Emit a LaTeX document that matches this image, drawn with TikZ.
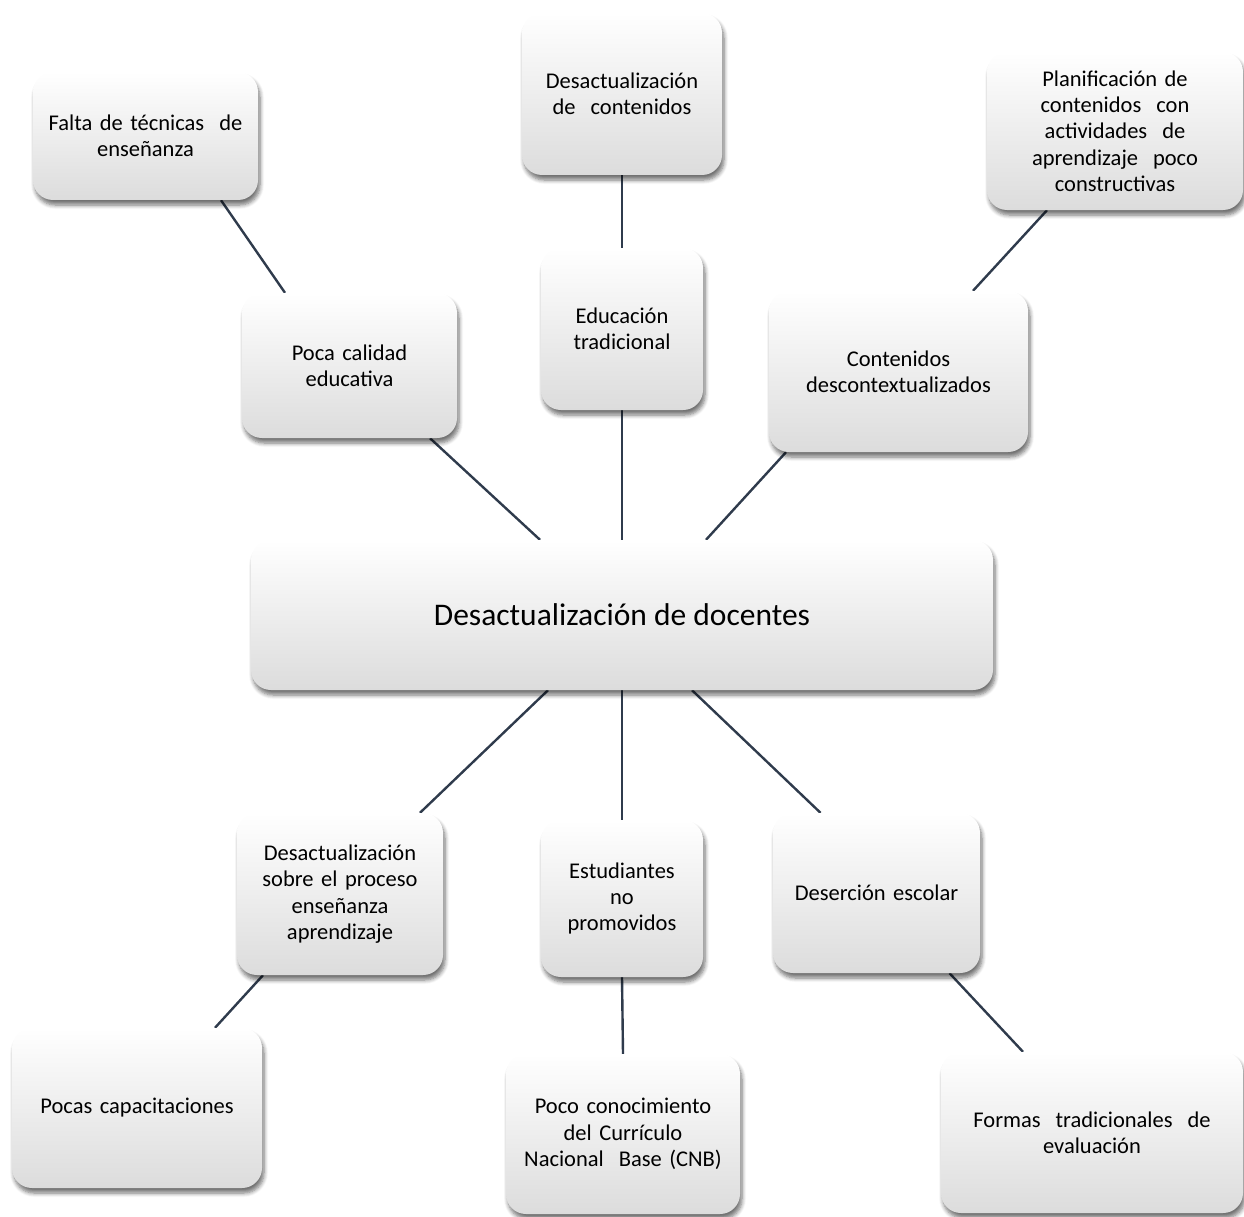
\documentclass[tikz,border=0pt]{standalone}
\usepackage{fontspec}
\setmainfont{Carlito}
\usetikzlibrary{shadows.blur,backgrounds,calc}
\definecolor{linec}{HTML}{2F3B4C}
\definecolor{boxbot}{HTML}{DCDCDC}
\tikzset{
  bx/.style={rounded corners=20pt, top color=white, bottom color=boxbot,
    inner sep=0pt, align=center, font=\fontsize{22.5}{26.3}\selectfont,
    blur shadow={shadow xshift=2pt, shadow yshift=-5pt, shadow blur steps=6, shadow blur radius=4pt, shadow opacity=55}},
  conn/.style={draw=linec, line width=2.4pt}
}
\newcommand{\bxnode}[7]{% name, x1, y1, x2, y2, text
  \node[bx, minimum width={#4-#2}, minimum height={#5-#3}, text width={#4-#2-12}] (#1) at ({(#2+#4)/2},{(#3+#5)/2}) {#6};}
\begin{document}
\begin{tikzpicture}[x=1pt,y=-1pt]
\useasboundingbox (0,0) rectangle (1244,1217);
\bxnode{fal}{33}{72}{258}{200}{Falta de técnicas\ \ de\\enseñanza}{}
\bxnode{dcon}{522}{13}{722}{175}{Desactualización\\de\ \ contenidos}{}
\bxnode{plan}{987}{52}{1243}{210}{Planificación de\\contenidos\ \ con\\actividades\ \ de\\aprendizaje\ \ poco\\constructivas}{}
\bxnode{poca}{242}{293}{457}{438}{Poca calidad\\educativa}{}
\bxnode{edu}{541}{248}{703}{410}{Educación\\tradicional}{}
\bxnode{cdes}{769}{291}{1028}{452}{Contenidos\\descontextualizados}{}
\node[bx, minimum width=742, minimum height=150, font=\fontsize{31.5}{36}\selectfont] (cen) at (622,615) {Desactualización de docentes};
\bxnode{dsob}{237}{813}{443}{975}{Desactualización\\sobre el proceso\\enseñanza\\aprendizaje}{}
\bxnode{est}{541}{820}{703}{977}{Estudiantes\\no\\promovidos}{}
\bxnode{des}{773}{813}{980}{973}{Deserción escolar}{}
\bxnode{pcap}{12}{1028}{262}{1188}{Pocas capacitaciones}{}
\bxnode{pcon}{506}{1054}{740}{1214}{Poco conocimiento\\del Currículo\\Nacional\ \ Base (CNB)}{}
\bxnode{form}{941}{1052}{1243}{1213}{Formas\ \ tradicionales\ \ de\\evaluación}{}
\begin{scope}[on background layer]
\draw[conn] ([xshift=75.5]fal.south) -- ([xshift=-64.5]poca.north);
\draw[conn] (dcon.south) -- (edu.north);
\draw[conn] ([xshift=-68]plan.south) -- ([xshift=74.5]cdes.north);
\draw[conn] ([xshift=80.5]poca.south) -- ([xshift=-82]cen.north);
\draw[conn] (edu.south) -- (cen.north);
\draw[conn] ([xshift=-112.5]cdes.south) -- ([xshift=84]cen.north);
\draw[conn] ([xshift=-74]cen.south) -- ([xshift=80]dsob.north);
\draw[conn] (cen.south) -- (est.north);
\draw[conn] ([xshift=70]cen.south) -- ([xshift=-56]des.north);
\draw[conn] ([xshift=-77]dsob.south) -- ([xshift=78]pcap.north);
\draw[conn] (est.south) -- (pcon.north);
\draw[conn] ([xshift=73]des.south) -- ([xshift=-69]form.north);
\end{scope}
\end{tikzpicture}
\end{document}
